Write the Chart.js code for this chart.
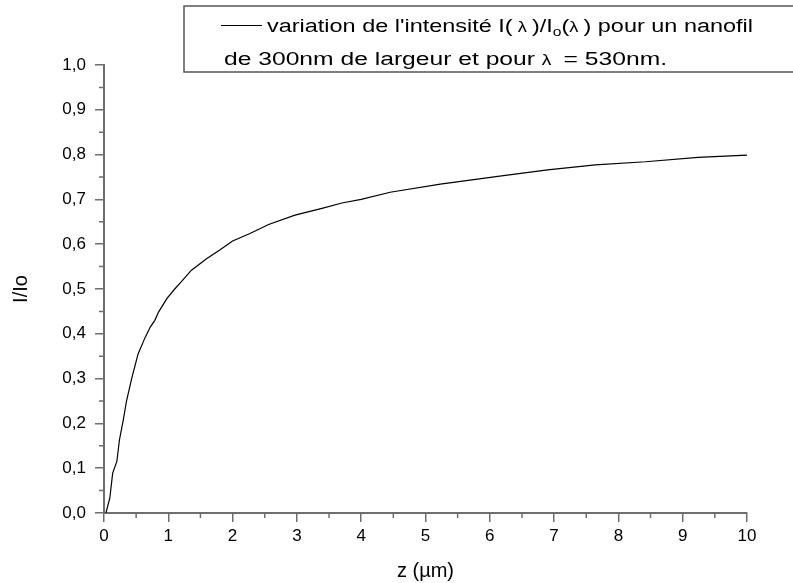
<!DOCTYPE html>
<html>
<head>
<meta charset="utf-8">
<script src="https://cdn.jsdelivr.net/npm/chart.js@4/dist/chart.umd.min.js"></script>
<style>
  html, body { margin: 0; padding: 0; background: #fff; }
  #wrap { width: 793px; height: 583px; position: relative; }
</style>
</head>
<body>
<div id="wrap"><canvas id="chart"></canvas></div>
<script>
// curve: z in µm, I/Io
var zValues = [0.03, 0.09, 0.135, 0.2, 0.24, 0.3, 0.35, 0.43, 0.53, 0.64, 0.72, 0.79, 0.85, 0.98, 1.1, 1.2, 1.36, 1.6, 1.8, 2.0, 2.27, 2.56, 2.97, 3.39, 3.7, 4.0, 4.45, 5.23, 6.27, 6.9, 7.64, 8.42, 9.24, 10];
var ratioValues = [0, 0.033, 0.089, 0.115, 0.163, 0.208, 0.25, 0.30, 0.355, 0.392, 0.415, 0.43, 0.449, 0.479, 0.50, 0.516, 0.542, 0.568, 0.587, 0.607, 0.624, 0.644, 0.665, 0.68, 0.692, 0.70, 0.716, 0.734, 0.754, 0.766, 0.777, 0.784, 0.794, 0.799];

var xTicks = [0, 1, 2, 3, 4, 5, 6, 7, 8, 9, 10];
var yTicks = [0, 0.1, 0.2, 0.3, 0.4, 0.5, 0.6, 0.7, 0.8, 0.9, 1.0];

var axisColor = '#6e6e6e';
var fontFam = '"Liberation Sans", Arial, sans-serif';

let points = zValues.map(function(z, i) { return {x: z, y: ratioValues[i]}; });

// minor ticks halfway between the major ones
const minorTicks = {
    id: 'minorTicks',
    afterDraw: function(chart) {
        let ctx = chart.ctx;
        let xs = chart.scales.x, ys = chart.scales.y;
        let area = chart.chartArea;
        ctx.save();
        ctx.strokeStyle = axisColor;
        ctx.lineWidth = 1.5;
        ctx.beginPath();
        for (let i = 0; i < xTicks.length - 1; i++) {
            let px = xs.getPixelForValue((xTicks[i] + xTicks[i + 1]) / 2);
            ctx.moveTo(px, area.bottom);
            ctx.lineTo(px, area.bottom + 5);
        }
        for (let i = 0; i < yTicks.length - 1; i++) {
            let py = ys.getPixelForValue((yTicks[i] + yTicks[i + 1]) / 2);
            ctx.moveTo(area.left, py);
            ctx.lineTo(area.left - 5, py);
        }
        ctx.stroke();
        ctx.restore();
    }
};

// boxed legend at the top, text is a bit stretched sideways like the original
const legendBox = {
    id: 'legendBox',
    afterDraw: function(chart) {
        let ctx = chart.ctx;
        ctx.save();
        ctx.strokeStyle = '#555';
        ctx.lineWidth = 1.5;
        ctx.strokeRect(184, 6, 640, 66);

        ctx.strokeStyle = '#000';
        ctx.lineWidth = 1;
        ctx.beginPath();
        ctx.moveTo(221, 25.5);
        ctx.lineTo(262, 25.5);
        ctx.stroke();

        let big = '18px ' + fontFam;
        let small = '14px ' + fontFam;
        let sub = '12px ' + fontFam;
        ctx.fillStyle = '#000';
        ctx.textBaseline = 'alphabetic';

        let line1 = [
            ["variation de l'intensité I(", big],
            [" \u03bb ", small],
            [")/I", big],
            ["o", sub, 4],
            ["(", big],
            ["\u03bb ", small],
            [") pour un nanofil", big]
        ];
        let line2 = [
            ["de 300nm de largeur et pour ", big],
            ["\u03bb ", small],
            [" = 530nm.", big]
        ];
        function widthOf(parts) {
            let w = 0;
            parts.forEach(function(p) { ctx.font = p[1]; w += ctx.measureText(p[0]).width; });
            return w;
        }
        function write(parts, x, y, target) {
            let sx = target / widthOf(parts);
            ctx.save();
            ctx.translate(x, y);
            ctx.scale(sx, 1);
            let cx = 0;
            parts.forEach(function(p) {
                ctx.font = p[1];
                ctx.fillText(p[0], cx, p[2] || 0);
                cx += ctx.measureText(p[0]).width;
            });
            ctx.restore();
        }
        write(line1, 267, 32, 486);
        write(line2, 224, 65, 443);
        ctx.restore();
    }
};

new Chart(document.getElementById('chart'), {
    type: 'scatter',
    data: {
        datasets: [{
            data: points,
            showLine: true,
            borderColor: '#000',
            borderWidth: 1.2,
            pointRadius: 0,
            tension: 0
        }]
    },
    options: {
        responsive: true,
        maintainAspectRatio: false,
        animation: false,
        layout: { padding: { top: 65, right: 46, left: 0, bottom: 0 } },
        plugins: { legend: { display: false }, tooltip: { enabled: false } },
        scales: {
            x: {
                type: 'linear',
                min: 0, max: 10,
                afterFit: function(scale) { scale.height = 70; },
                afterBuildTicks: function(scale) { scale.ticks = xTicks.map(function(v) { return {value: v}; }); },
                border: { color: axisColor, width: 2 },
                grid: { drawOnChartArea: false, color: axisColor, lineWidth: 1.5, tickLength: 9 },
                ticks: {
                    color: '#000', padding: 4, maxRotation: 0, autoSkip: false,
                    font: { family: fontFam, size: 17 },
                    callback: function(v) { return String(v); }
                },
                title: {
                    display: true, text: 'z (µm)', color: '#000',
                    font: { family: fontFam, size: 20 },
                    padding: { top: 0, bottom: 0 }
                }
            },
            y: {
                min: 0, max: 1,
                afterFit: function(scale) { scale.width = 104; },
                afterBuildTicks: function(scale) { scale.ticks = yTicks.map(function(v) { return {value: v}; }); },
                border: { color: axisColor, width: 2 },
                grid: { drawOnChartArea: false, color: axisColor, lineWidth: 1.5, tickLength: 9 },
                ticks: {
                    color: '#000', padding: 9, autoSkip: false,
                    font: { family: fontFam, size: 17 },
                    callback: function(v) { return v.toFixed(1).replace('.', ','); }
                },
                title: {
                    display: true, text: 'I/Io', color: '#000',
                    font: { family: fontFam, size: 20 },
                    padding: { top: 9, bottom: 0 }
                }
            }
        }
    },
    plugins: [minorTicks, legendBox]
});
</script>
</body>
</html>
